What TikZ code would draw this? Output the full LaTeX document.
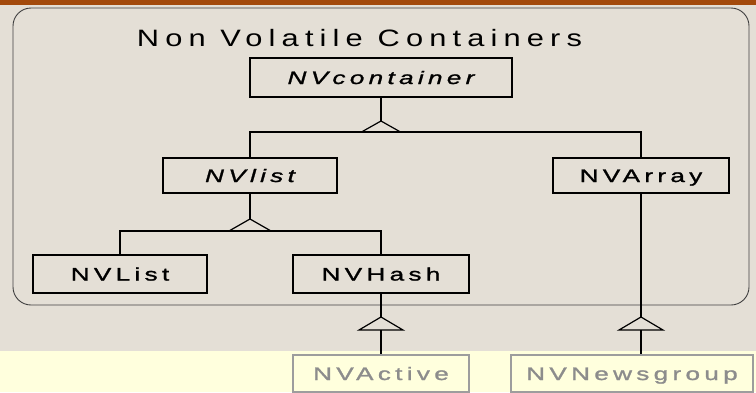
\documentclass[tikz,border=0pt]{standalone}
\usepackage{fontspec}
\usepackage{xcolor}
\setmainfont{Liberation Sans}
\newfontfamily\fuentetitulo[FakeStretch=1.3,LetterSpace=26]{Liberation Sans}
\newfontfamily\fuentecaja[FakeStretch=1.45,LetterSpace=24,FakeBold=1.4]{Liberation Sans}
\usetikzlibrary{positioning, calc}

\definecolor{fondo}{RGB}{228,223,214}
\definecolor{amarillo}{RGB}{255,255,221}
\definecolor{franja}{RGB}{163,74,12}
\definecolor{gris}{RGB}{140,140,140}

\begin{document}
\begin{tikzpicture}[
    x=1pt, y=-1pt,
    font=\fuentecaja\fontsize{18}{20}\selectfont,
    caja/.style={draw, line width=1.2pt, minimum height=36pt, text height=13pt,
                 text depth=0pt, inner sep=0pt},
    externo/.style={caja, draw=gris!85, text=gris, fill=amarillo},
    marco/.style={draw=black!75, line width=0.9pt, rounded corners=18pt,
                  inner sep=0pt},
    linea/.style={line width=1.2pt}
  ]

  % --- Fondo ---
  \fill[fondo] (0,0) rectangle (756,392);
  \fill[amarillo] (0,351) rectangle (756,392);
  \fill[franja] (0,0) rectangle (756,5);
  \useasboundingbox (0,0) rectangle (756,392);

  % --- Paquete ---
  \node[marco, minimum width=736pt, minimum height=297pt] (paquete) at (381,156.5) {};
  \node[font=\fuentetitulo\fontsize{23.7}{26}\selectfont, anchor=base] (titulo)
       at (359.5,46) {Non Volatile Containers};

  % --- Clases ---
  \node[caja, minimum width=262pt, minimum height=39pt] (nvcont) at (381,77.5)
       {\itshape NVcontainer};
  \node[caja, minimum width=174pt, minimum height=35pt] (nvlabs) at (250,175.5)
       {\itshape NVlist};
  \node[caja, minimum width=176pt, minimum height=35pt] (nvarray) at (641,175.5)
       {NVArray};
  \node[caja, minimum width=174pt, minimum height=38pt] (nvlist) at (120,274)
       {NVList};
  \node[caja, minimum width=176pt, minimum height=38pt] (nvhash) at (381,274)
       {NVHash};

  % --- Clases externas ---
  \node[externo, minimum width=176pt, minimum height=37pt] (nvactive) at (381,373.5)
       {NVActive};
  \node[externo, minimum width=242pt, minimum height=37pt] (nvnews) at (632,373.5)
       {NVNewsgroup};

  % --- Herencia ---
  \coordinate (h1) at (381,121);
  \coordinate (b1) at (381,132);
  \draw[linea] (nvcont.south) -- (h1);
  \draw[linea] (h1) -- ++(-19.5,11) -- ++(39,0) -- cycle;
  \draw[linea] (nvlabs.north) -- (nvlabs.north |- b1) -- (nvarray.north |- b1)
        -- (nvarray.north);

  \coordinate (h2) at (250,219);
  \coordinate (b2) at (250,231);
  \draw[linea] (nvlabs.south) -- (h2);
  \draw[linea] (h2) -- ++(-21,12) -- ++(42,0) -- cycle;
  \draw[linea] (nvlist.north) -- (nvlist.north |- b2) -- (nvhash.north |- b2)
        -- (nvhash.north);

  \coordinate (h3) at (381,317);
  \coordinate (b3) at (381,330);
  \draw[linea] (nvhash.south) -- (h3);
  \draw[linea] (h3) -- ++(-22,13) -- ++(44,0) -- cycle;
  \draw[linea] (b3) -- (nvactive.north);

  \coordinate (h4) at (641,317);
  \coordinate (b4) at (641,330);
  \draw[linea] (nvarray.south) -- (h4);
  \draw[linea] (h4) -- ++(-22,13) -- ++(44,0) -- cycle;
  \draw[linea] (b4) -- (b4 |- nvnews.north);
\end{tikzpicture}
\end{document}
